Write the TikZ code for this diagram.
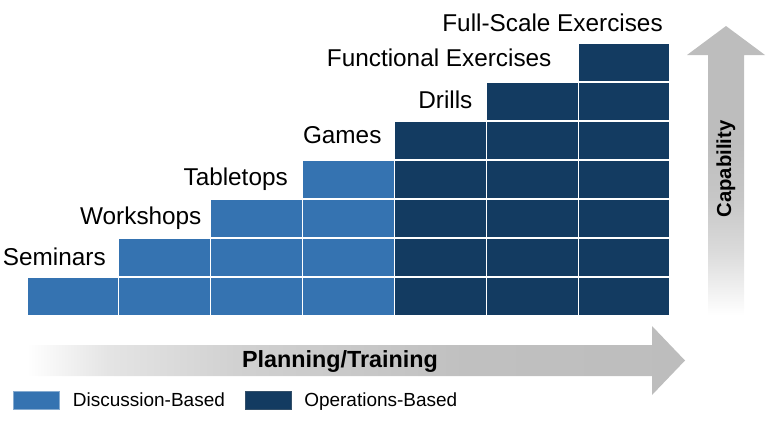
\documentclass[tikz,border=0pt]{standalone}
\usepackage{fontspec}
\setmainfont{Liberation Sans}
\usetikzlibrary{positioning}

\definecolor{discblue}{HTML}{3573B1}
\definecolor{opsblue}{HTML}{133B61}
\definecolor{arrowgray}{HTML}{BDBDBD}

\pgfdeclarehorizontalshading{planfade}{100bp}{color(0bp)=(white); color(25bp)=(white);
  color(31bp)=(arrowgray!40); color(41bp)=(arrowgray!70); color(58bp)=(arrowgray!95);
  color(75bp)=(arrowgray); color(100bp)=(arrowgray)}
\pgfdeclareverticalshading{capfade}{100bp}{color(0bp)=(white); color(25bp)=(white);
  color(36bp)=(arrowgray!55); color(45bp)=(arrowgray!85); color(55bp)=(arrowgray);
  color(100bp)=(arrowgray)}

\begin{document}
\begin{tikzpicture}[x=0.025cm, y=-0.025cm,
    cell/.style={draw=white, line width=0.9pt},
    lbl/.style={anchor=base east, inner sep=0pt, font=\fontsize{17.3}{20}\selectfont},
    key/.style={anchor=base west, inner sep=0pt, font=\fontsize{13.5}{16}\selectfont},
    keybox/.style={draw, line width=0.4pt, minimum width=1.15cm, minimum height=0.45cm, inner sep=0pt}]
    \useasboundingbox (0,0) rectangle (768,422);

    % arrows
    \shade[shading=planfade] (27,345) -- (652,345) -- (652,326) -- (685,360.5) -- (652,395) -- (652,376) -- (27,376) -- cycle;
    \shade[shading=capfade] (708,315) -- (708,55) -- (687,55) -- (726,26) -- (765,55) -- (744,55) -- (744,315) -- cycle;

    % steps
    \foreach \c in {0,...,6}{
        \pgfmathsetmacro{\xl}{27+\c*91.857}
        \pgfmathsetmacro{\xr}{\xl+91.857}
        \ifnum\c<4 \def\cellcol{discblue}\else \def\cellcol{opsblue}\fi
        \foreach \r in {0,...,\c}{
            \filldraw[fill=\cellcol, cell] (\xl,{316-\r*39}) rectangle (\xr,{316-(\r+1)*39});
        }
    }

    \node[lbl] (seminars) at (106, 265) {Seminars};
    \node[lbl] (workshops) at (201.7, 224.3) {Workshops};
    \node[lbl] (tabletops) at (288, 185) {Tabletops};
    \node[lbl] (games) at (381.7, 143.3) {Games};
    \node[lbl] (drills) at (472.7, 108.3) {Drills};
    \node[lbl] (functional) at (551.7, 66.7) {Functional Exercises};
    \node[lbl] (fullscale) at (663, 31.7) {Full-Scale Exercises};

    \node[anchor=base, font=\bfseries\fontsize{16.6}{19}\selectfont] (planning) at (340, 367.3) {Planning/Training};
    \node[rotate=90, font=\bfseries\fontsize{14.4}{17}\selectfont] (capability) at (726, 169) {Capability};

    % legend
    \node[keybox, fill=discblue, draw=discblue!60!white] (disckey) at (36, 400) {};
    \node[key] (disctext) at (72.7, 406.5) {Discussion-Based};
    \node[keybox, fill=opsblue, draw=opsblue!70!gray] (opskey) at (268.7, 400) {};
    \node[key] (opstext) at (304, 406.5) {Operations-Based};
\end{tikzpicture}
\end{document}
